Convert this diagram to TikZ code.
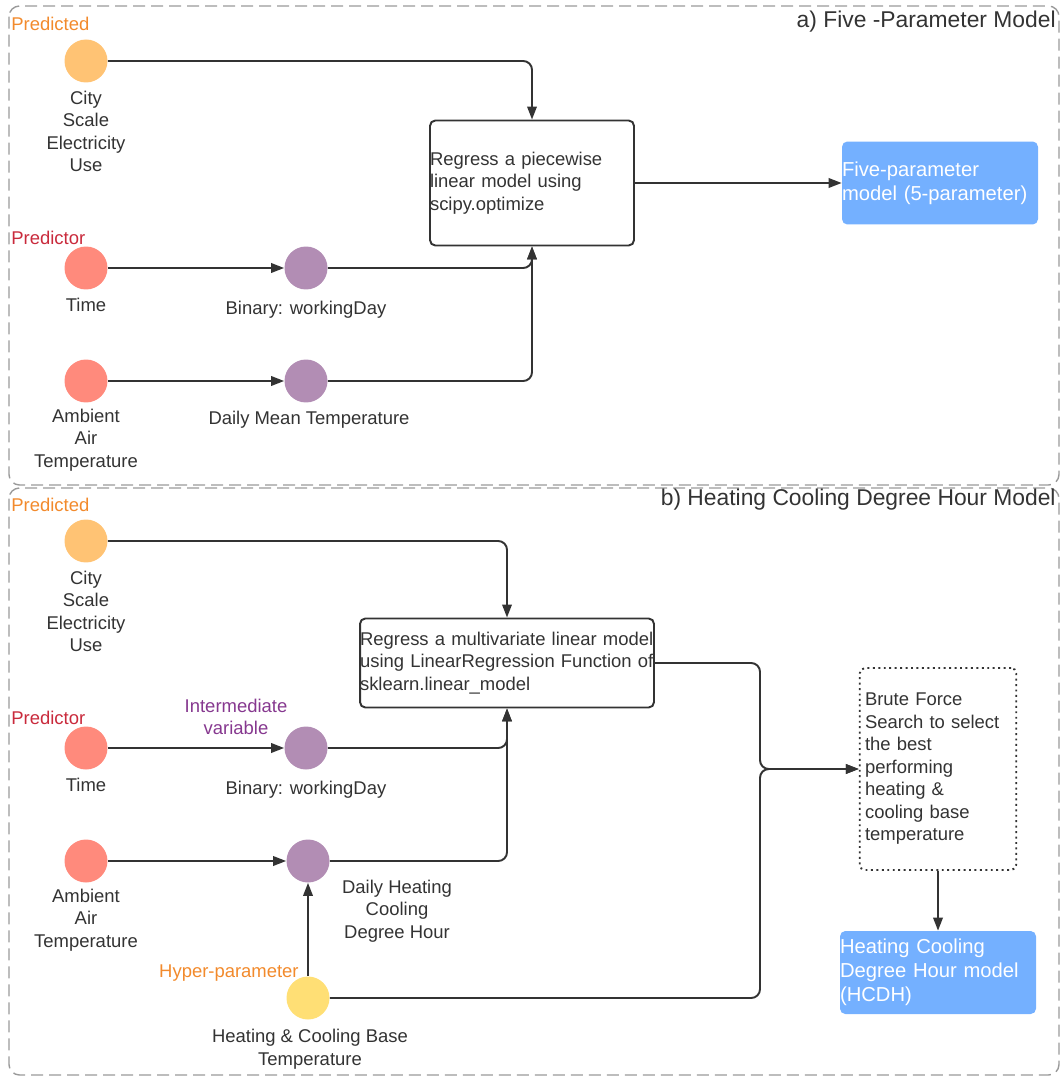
\documentclass[tikz,border=0pt]{standalone}
\usepackage{fontspec}
\setmainfont{Liberation Sans}
\usetikzlibrary{arrows.meta}
\definecolor{TxtClr}{HTML}{333333}
\definecolor{BorderClr}{HTML}{9A9A9A}
\definecolor{OutClr}{HTML}{FFC374}
\definecolor{InClr}{HTML}{FF8A7C}
\definecolor{MidClr}{HTML}{B28DB4}
\definecolor{HypClr}{HTML}{FFDF75}
\definecolor{ModelClr}{HTML}{74B0FF}
\definecolor{PredictedClr}{HTML}{F28A2C}
\definecolor{PredictorClr}{HTML}{C92A3C}
\definecolor{InterClr}{HTML}{86388F}

\begin{document}
\begin{tikzpicture}[x=0.02cm,y=-0.02cm,
  font=\fontsize{10.5}{12.8}\selectfont,text=TxtClr,
  dot/.style={circle,minimum size=0.86cm,inner sep=0pt},
  lbl/.style={align=center,inner sep=0pt},
  tag/.style={anchor=west,inner sep=0pt},
  title/.style={anchor=east,inner sep=0pt,font=\fontsize{13}{15}\selectfont},
  procbox/.style={draw=TxtClr,line width=1.1pt,rounded corners=3pt,align=left,inner xsep=0pt},
  modelbox/.style={fill=ModelClr,rounded corners=3pt,align=left,inner xsep=0pt,text=white,
    font=\fontsize{11.5}{13.6}\selectfont,text width=3.92cm,minimum height=1.66cm},
  conn/.style={line width=1.1pt,draw=TxtClr,rounded corners=5pt},
  arr/.style={conn,-{Triangle[length=2.6mm,width=1.9mm]}},
  panel/.style={draw=BorderClr,line width=0.8pt,dash pattern=on 0.24cm off 0.12cm,rounded corners=6pt}]
\useasboundingbox (0,0) rectangle (1063,1077);

% panels
\draw[panel] (9,6) rectangle (1059,485);
\draw[panel] (9,488) rectangle (1059,1075);
\node[title] (titleA) at (1056,22) {a) Five -Parameter Model};
\node[title] (titleB) at (1056,500) {b) Heating Cooling Degree Hour Model};

% a) five-parameter model
\node[tag,text=PredictedClr] (predA) at (11,24) {Predicted};
\node[tag,text=PredictorClr] (prdrA) at (11,238) {Predictor};
\node[dot,fill=OutClr] (cityA) at (86,61) {};
\node[dot,fill=InClr] (timeA) at (86,268) {};
\node[dot,fill=InClr] (ambA) at (86,381) {};
\node[dot,fill=MidClr] (binA) at (306,268) {};
\node[dot,fill=MidClr] (meanA) at (306,381) {};
\node[lbl] (cityAl) at (86,131.5) {City\\Scale\\Electricity\\Use};
\node[lbl] (timeAl) at (86,305) {Time};
\node[lbl] (ambAl) at (86,440) {Ambient\\Air\\Temperature};
\node[lbl] (binAl) at (306,310) {Binary: workingDay};
\node[lbl] (meanAl) at (309,420) {Daily Mean Temperature};
\node[procbox,text width=4.08cm,minimum height=2.5cm] (boxA) at (532,183)
  {Regress a piecewise\\linear model using\\scipy.optimize};
\node[modelbox] (fiveP) at (940,183) {Five-parameter\\model (5-parameter)};

\draw[arr] (cityA) -| (boxA.north);
\draw[arr] (timeA) -- (binA);
\draw[arr] (ambA) -- (meanA);
\draw[arr] (binA) -| (boxA.south);
\draw[arr] (meanA) -| (boxA.south);
\draw[arr] (boxA) -- (fiveP);

% b) heating cooling degree hour model
\node[tag,text=PredictedClr] (predB) at (11,505) {Predicted};
\node[tag,text=PredictorClr] (prdrB) at (11,718) {Predictor};
\node[lbl,text=InterClr] (interB) at (236,717) {Intermediate\\variable};
\node[anchor=east,inner sep=0pt,text=PredictedClr] (hypB) at (299,973) {Hyper-parameter};
\node[dot,fill=OutClr] (cityB) at (86,541) {};
\node[dot,fill=InClr] (timeB) at (86,748) {};
\node[dot,fill=InClr] (ambB) at (86,861) {};
\node[dot,fill=MidClr] (binB) at (306,748) {};
\node[dot,fill=MidClr] (dhcB) at (308,861) {};
\node[dot,fill=HypClr] (base) at (308,998) {};
\node[lbl] (cityBl) at (86,611.5) {City\\Scale\\Electricity\\Use};
\node[lbl] (timeBl) at (86,785) {Time};
\node[lbl] (ambBl) at (86,920) {Ambient\\Air\\Temperature};
\node[lbl] (binBl) at (306,790) {Binary: workingDay};
\node[lbl] (dhcBl) at (397,911) {Daily Heating\\Cooling\\Degree Hour};
\node[lbl] (basel) at (310,1049) {Heating \& Cooling Base\\Temperature};
\node[procbox,text width=5.88cm,minimum height=1.78cm] (boxB) at (507,663)
  {Regress a multivariate linear model\\using LinearRegression Function of\\sklearn.linear\_model};
\node[procbox,dotted,inner xsep=3pt,text width=2.92cm,minimum height=4.04cm] (brute) at (938,769)
  {Brute Force\\Search to select\\the best\\performing\\heating \&\\cooling base\\temperature};
\node[modelbox] (hcdh) at (938,972.5) {Heating Cooling\\Degree Hour model\\(HCDH)};
\coordinate (jn) at (760,769);

\draw[arr] (cityB) -| (boxB.north);
\draw[arr] (timeB) -- (binB);
\draw[arr] (ambB) -- (dhcB);
\draw[arr] (binB) -| (boxB.south);
\draw[arr] (dhcB) -| (boxB.south);
\draw[arr] (base) -- (dhcB);
\draw[arr] (boxB) -| (jn) -- (brute);
\draw[arr] (base) -| (jn) -- (brute);
\draw[arr] (brute) -- (hcdh);
\end{tikzpicture}
\end{document}
